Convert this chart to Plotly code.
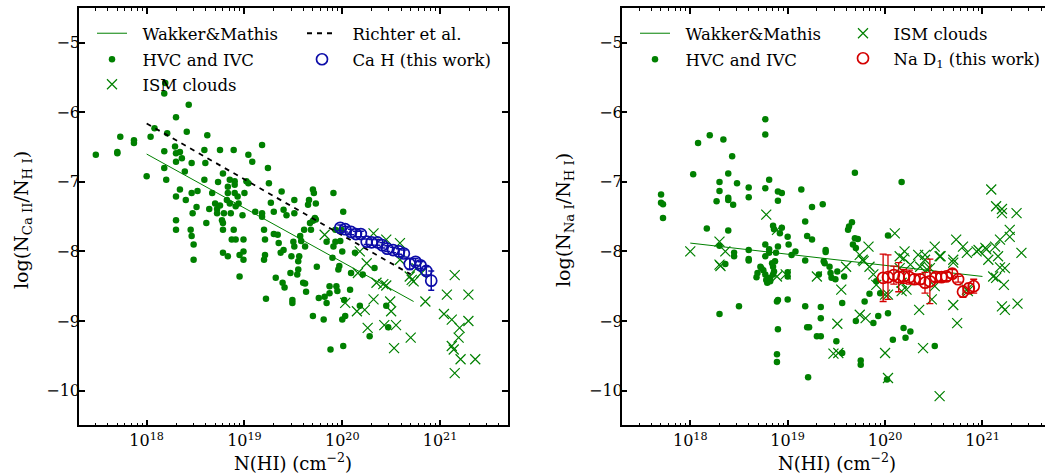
import plotly.graph_objects as go

GREEN = "#008000"
BLUE = "#0c0ca8"
RED = "#d40000"
FONT = "DejaVu Serif"

# ---------------- data (log10 N(HI), log ratio) ----------------
# Left panel: Ca II
ca_hvc_logN = [17.48, 17.73, 17.70, 17.70, 17.87, 17.87, 18.00, 18.04, 18.08, 18.18, 18.19, 18.18, 18.18, 18.20, 18.21,
               18.29, 18.30, 18.30, 18.30, 18.30, 18.30, 18.30, 18.34, 18.34, 18.36, 18.39, 18.40, 18.43, 18.41, 18.45,
               18.46, 18.46, 18.46, 18.47, 18.48, 18.48, 18.52, 18.51, 18.59, 18.59, 18.60, 18.61, 18.62, 18.64, 18.67,
               18.70, 18.72, 18.72, 18.73, 18.75, 18.75, 18.77, 18.78, 18.78, 18.78, 18.78, 18.79, 18.82, 18.83, 18.83,
               18.83, 18.85, 18.85, 18.86, 18.87, 18.89, 18.89, 18.90, 18.90, 18.91, 18.90, 18.91, 18.93, 18.94, 18.95,
               18.95, 18.98, 18.99, 18.99, 18.99, 19.00, 19.02, 19.04, 19.04, 19.08, 19.11, 19.18, 19.18, 19.18, 19.20,
               19.21, 19.20, 19.21, 19.22, 19.24, 19.25, 19.27, 19.30, 19.30, 19.32, 19.34, 19.35, 19.37, 19.38, 19.39,
               19.40, 19.40, 19.41, 19.43, 19.47, 19.48, 19.49, 19.49, 19.50, 19.51, 19.51, 19.51, 19.54, 19.55, 19.55,
               19.56, 19.57, 19.58, 19.60, 19.61, 19.62, 19.62, 19.63, 19.65, 19.66, 19.67, 19.68, 19.70, 19.70, 19.71,
               19.70, 19.72, 19.73, 19.73, 19.74, 19.76, 19.81, 19.82, 19.84, 19.84, 19.87, 19.87, 19.88, 19.90, 19.91,
               19.91, 19.93, 19.94, 19.96, 19.95, 19.97, 19.99, 20.00, 20.00, 20.01, 20.01, 20.02, 20.03, 20.08, 20.09,
               20.13, 20.18, 20.21, 20.28, 20.33, 20.45, 20.47, 19.93, 19.98]
ca_hvc_ratio = [-6.61, -6.35, -6.57, -6.59, -6.40, -6.44, -6.92, -6.35, -6.23, -5.73, -5.58, -6.56, -6.80, -6.97, -6.30,
                -6.49, -6.07, -6.59, -6.71, -7.21, -7.55, -7.69, -7.11, -6.57, -6.66, -6.85, -7.26, -5.89, -6.28, -7.69,
                -7.78, -6.73, -7.16, -7.45, -7.90, -8.12, -7.13, -7.36, -6.54, -6.97, -6.73, -7.59, -6.33, -7.39, -7.16,
                -7.31, -7.39, -7.45, -7.00, -6.54, -7.34, -7.55, -7.59, -7.69, -8.02, -6.88, -7.45, -7.26, -7.07, -7.16,
                -8.07, -6.97, -7.31, -7.45, -7.83, -6.54, -7.69, -6.99, -7.16, -7.35, -7.04, -7.83, -7.21, -7.31, -8.05,
                -8.36, -7.48, -7.83, -8.00, -8.12, -7.16, -6.99, -6.61, -7.02, -6.71, -7.43, -7.45, -6.47, -7.50, -7.69,
                -8.05, -8.12, -7.83, -8.68, -6.80, -7.02, -7.30, -7.43, -7.75, -8.38, -7.76, -7.88, -8.02, -7.14, -8.45,
                -7.40, -7.98, -8.52, -7.48, -8.31, -8.07, -8.74, -8.70, -7.86, -7.93, -7.26, -7.45, -8.33, -8.14, -8.26,
                -8.07, -7.78, -7.85, -8.45, -7.69, -7.93, -8.46, -8.58, -7.33, -7.26, -7.59, -7.69, -8.93, -7.11, -7.16,
                -7.56, -7.52, -7.54, -7.31, -8.22, -8.67, -8.98, -8.65, -8.74, -7.86, -8.50, -8.60, -9.41, -8.09, -7.93,
                -7.16, -7.69, -8.50, -8.26, -8.57, -8.21, -7.69, -8.00, -8.98, -7.43, -9.36, -8.70, -8.93, -8.55, -8.31,
                -8.02, -8.78, -8.33, -9.22, -8.24, -8.78, -9.09, -7.86, -7.85]

ca_ism_logN = [19.82, 20.32, 20.45, 20.59, 20.18, 20.25, 20.59, 20.35, 20.42, 20.45, 20.69, 20.73, 20.16, 20.32,
               20.03, 20.15, 20.23, 20.49, 20.50, 20.26, 20.43, 20.55, 20.53, 20.70, 20.85, 20.81, 20.76, 21.07,
               21.15, 21.29, 21.04, 21.12, 21.29, 21.20, 21.19, 21.12, 21.14, 21.21, 21.36, 21.15, 20.71]
ca_ism_ratio = [-7.76, -7.74, -7.83, -7.88, -8.00, -8.17, -8.12, -8.45, -8.47, -8.49, -8.36, -8.43, -8.31, -8.69,
                -8.74, -8.86, -8.84, -8.72, -8.86, -9.10, -9.06, -9.06, -9.39, -9.24, -8.72, -8.31, -8.24, -8.62,
                -8.34, -8.62, -8.90, -8.98, -9.00, -9.10, -9.24, -9.36, -9.41, -9.55, -9.55, -9.75, -8.41]

ca_wm_logN = [18.0, 20.73]
ca_wm_ratio = [-6.60, -8.72]
ca_richter_logN = [18.0, 20.70]
ca_richter_ratio = [-6.16, -8.33]

work_logN = [19.98, 20.03, 20.09, 20.14, 20.19, 20.25, 20.30, 20.36, 20.41, 20.46, 20.52, 20.58, 20.63, 20.69,
             20.75, 20.80, 20.86, 20.91]
ca_work_ratio = [-7.66, -7.68, -7.72, -7.75, -7.75, -7.86, -7.87, -7.87, -7.91, -7.96, -7.98, -8.00, -8.03, -8.18,
                 -8.15, -8.20, -8.28, -8.42]
ca_work_err = [0.04, 0.04, 0.04, 0.04, 0.04, 0.04, 0.04, 0.04, 0.04, 0.04, 0.04, 0.04, 0.05, 0.08, 0.05, 0.05,
               0.06, 0.14]

# Right panel: Na I
na_hvc_logN = [17.70, 17.70, 17.72, 17.72, 18.03, 18.08, 18.17, 18.20, 18.27, 18.30, 18.30, 18.30, 18.30, 18.34,
               18.36, 18.39, 18.39, 18.39, 18.39, 18.43, 18.44, 18.45, 18.45, 18.48, 18.50, 18.60, 18.60, 18.60,
               18.60, 18.60, 18.68, 18.69, 18.72, 18.73, 18.75, 18.77, 18.77, 18.77, 18.77, 18.77, 18.77, 18.78,
               18.79, 18.81, 18.81, 18.81, 18.82, 18.82, 18.84, 18.85, 18.85, 18.86, 18.85, 18.86, 18.87, 18.88,
               18.89, 18.89, 18.89, 18.90, 18.90, 18.90, 18.90, 18.92, 18.94, 18.94, 19.00, 19.00, 19.00, 19.00,
               19.01, 19.04, 19.08, 19.14, 19.18, 19.18, 19.18, 19.20, 19.21, 19.25, 19.25, 19.32, 19.34, 19.34,
               19.34, 19.30, 19.36, 19.37, 19.38, 19.39, 19.39, 19.43, 19.44, 19.45, 19.49, 19.50, 19.51, 19.56,
               19.56, 19.58, 19.62, 19.63, 19.66, 19.67, 19.69, 19.70, 19.69, 19.70, 19.72, 19.75, 19.75, 19.79,
               19.84, 19.88, 19.91, 19.93, 19.95, 20.02, 20.03, 20.03, 20.08, 20.17, 20.19, 20.21, 20.26, 20.51,
               19.20, 19.22, 18.90]
na_hvc_ratio = [-7.18, -7.30, -7.32, -7.52, -6.89, -6.44, -7.67, -6.33, -7.28, -7.00, -7.13, -7.92, -8.90, -6.39,
                -8.18, -6.88, -7.23, -7.26, -7.70, -6.63, -7.33, -8.02, -8.07, -7.02, -8.79, -7.08, -7.22, -7.98,
                -8.11, -8.13, -8.37, -8.31, -8.22, -8.24, -8.27, -8.33, -6.10, -6.32, -7.09, -7.90, -8.07, -8.41,
                -8.45, -7.97, -8.02, -6.97, -8.38, -8.43, -8.17, -8.22, -7.63, -7.68, -8.33, -8.29, -8.14, -8.02,
                -9.48, -9.59, -8.72, -7.27, -7.14, -9.12, -7.93, -7.74, -7.66, -7.16, -8.30, -8.36, -7.79, -8.69,
                -7.90, -8.05, -8.00, -7.11, -7.57, -8.13, -8.79, -7.78, -9.81, -7.36, -7.83, -8.33, -8.80, -8.96,
                -9.22, -9.22, -7.32, -8.14, -8.17, -7.98, -8.01, -8.22, -8.31, -8.38, -8.40, -9.29, -8.29, -9.46,
                -8.74, -8.36, -7.69, -7.64, -7.58, -7.90, -7.81, -7.95, -6.87, -9.00, -7.82, -9.57, -9.63, -8.72,
                -8.61, -9.03, -8.43, -8.93, -8.60, -9.84, -7.77, -8.89, -9.27, -7.00, -9.10, -9.24, -9.15, -9.36,
                -9.09, -9.09, -8.70]

na_ism_logN = [18.00, 18.30, 18.30, 18.31, 18.36, 18.78, 18.89, 18.89, 18.98, 19.30, 19.55, 19.60, 19.52, 19.47,
               19.51, 19.74, 19.74, 19.78, 19.83, 19.88, 19.91, 20.00, 20.03, 20.03, 20.10, 20.15, 20.17, 20.20,
               20.22, 20.34, 20.35, 20.39, 20.41, 20.46, 20.48, 20.51, 20.51, 20.56, 20.57, 20.70, 20.70, 20.73,
               20.74, 20.80, 20.84, 20.84, 20.94, 21.03, 21.06, 21.09, 21.13, 21.14, 21.14, 21.16, 21.20, 21.20,
               21.18, 21.23, 21.20, 21.23, 21.22, 21.28, 21.28, 21.35, 21.36, 21.40, 21.11, 19.80, 19.77, 19.84,
               20.19, 20.26, 20.15, 20.41, 20.56, 20.70, 20.96, 21.04, 21.18, 20.36, 20.43, 20.17, 20.85, 20.00]
na_ism_ratio = [-8.00, -7.86, -8.19, -8.21, -8.00, -7.47, -7.69, -8.36, -8.33, -8.36, -8.55, -8.22, -9.46, -9.47,
                -9.04, -8.91, -8.05, -8.14, -7.93, -8.33, -8.48, -9.46, -8.62, -9.82, -7.74, -8.07, -8.45, -8.00,
                -8.55, -8.05, -8.84, -9.39, -8.12, -8.24, -8.69, -7.93, -8.50, -10.08, -8.07, -8.12, -8.77, -7.83,
                -9.03, -7.93, -8.02, -8.55, -8.00, -7.95, -8.12, -7.11, -7.93, -7.35, -8.38, -8.07, -7.39, -7.45,
                -7.83, -8.24, -8.79, -8.84, -8.48, -7.69, -7.79, -7.45, -8.75, -8.02, -8.36, -8.96, -8.12, -8.22,
                -8.10, -8.19, -8.24, -8.05, -8.07, -8.16, -7.98, -7.97, -8.23, -8.22, -8.26, -8.57, -8.57, -8.62]

na_wm_logN = [18.0, 21.0]
na_wm_ratio = [-7.88, -8.36]

na_work_ratio = [-8.38, -8.37, -8.34, -8.37, -8.36, -8.37, -8.40, -8.40, -8.45, -8.43, -8.37, -8.37, -8.36, -8.32,
                 -8.40, -8.58, -8.53, -8.50]
na_work_err = [0.34, 0.32, 0.13, 0.21, 0.10, 0.10, 0.07, 0.07, 0.15, 0.32, 0.06, 0.06, 0.06, 0.06, 0.04, 0.08,
               0.07, 0.10]

x_tick_exps = [18, 19, 20, 21]
y_tick_vals = [-10, -9, -8, -7, -6, -5]


def lin(logs):
    return [10.0 ** v for v in logs]


SP = "\u00a0\u00a0"
fig = go.Figure()

# ---- left panel ----
fig.add_trace(go.Scatter(x=lin(ca_hvc_logN), y=ca_hvc_ratio, mode="markers", name=SP + "HVC and IVC",
                         marker=dict(color=GREEN, size=6.5, symbol="circle"), legend="legend2",
                         xaxis="x", yaxis="y"))
fig.add_trace(go.Scatter(x=lin(ca_ism_logN), y=ca_ism_ratio, mode="markers", name=SP + "ISM clouds",
                         marker=dict(color=GREEN, size=10, symbol="x-thin", line=dict(color=GREEN, width=1.2)),
                         legend="legend3", xaxis="x", yaxis="y"))
fig.add_trace(go.Scatter(x=lin(ca_wm_logN), y=ca_wm_ratio, mode="lines", name=SP + "Wakker&amp;Mathis",
                         line=dict(color=GREEN, width=1), legend="legend10", xaxis="x", yaxis="y"))
fig.add_trace(go.Scatter(x=lin(ca_richter_logN), y=ca_richter_ratio, mode="lines", name=SP + "Richter et al.",
                         line=dict(color="black", width=1.8, dash="5px,5px"), legend="legend4",
                         xaxis="x", yaxis="y"))
fig.add_trace(go.Scatter(x=lin(work_logN), y=ca_work_ratio, mode="markers", name=SP + "Ca H (this work)",
                         marker=dict(color=BLUE, size=11, symbol="circle-open", line=dict(color=BLUE, width=1.7)),
                         error_y=dict(type="data", array=ca_work_err, color=BLUE, thickness=1.5, width=3),
                         legend="legend5", xaxis="x", yaxis="y"))

# ---- right panel ----
fig.add_trace(go.Scatter(x=lin(na_hvc_logN), y=na_hvc_ratio, mode="markers", name=SP + "HVC and IVC",
                         marker=dict(color=GREEN, size=6.5, symbol="circle"), legend="legend7",
                         xaxis="x2", yaxis="y2"))
fig.add_trace(go.Scatter(x=lin(na_ism_logN), y=na_ism_ratio, mode="markers", name=SP + "ISM clouds",
                         marker=dict(color=GREEN, size=10, symbol="x-thin", line=dict(color=GREEN, width=1.2)),
                         legend="legend8", xaxis="x2", yaxis="y2"))
fig.add_trace(go.Scatter(x=lin(na_wm_logN), y=na_wm_ratio, mode="lines", name=SP + "Wakker&amp;Mathis",
                         line=dict(color=GREEN, width=1), legend="legend6", xaxis="x2", yaxis="y2"))
fig.add_trace(go.Scatter(x=lin(work_logN), y=na_work_ratio, mode="markers",
                         name=SP + "Na D<sub>1</sub> (this work)",
                         marker=dict(color=RED, size=11, symbol="circle-open", line=dict(color=RED, width=1.7)),
                         error_y=dict(type="data", array=na_work_err, color=RED, thickness=1.3, width=3.5),
                         legend="legend9", xaxis="x2", yaxis="y2"))

W, H = 1045, 476
top_px, bot_px = 8, 425.3
ydom = [(H - bot_px) / H, (H - top_px) / H]

minor_vals = [float(m) * 10.0 ** e for e in range(17, 22) for m in range(2, 10)]

xcommon = dict(type="log", showline=True, linecolor="black", linewidth=1.5, ticks="inside", ticklen=6,
               tickwidth=1.5, tickcolor="black", mirror="ticks", automargin=False,
               tickmode="array", tickvals=[10.0 ** e for e in x_tick_exps],
               ticktext=["10<sup>%d</sup>" % e for e in x_tick_exps],
               showgrid=False, zeroline=False,
               tickfont=dict(family=FONT, size=16, color="black"),
               minor=dict(ticks="inside", ticklen=3, tickwidth=1, tickcolor="black", tickvals=minor_vals,
                          showgrid=False))
ycommon = dict(range=[-10.5, -4.5], showline=True, linecolor="black", linewidth=1.5, ticks="inside", ticklen=6,
               tickwidth=1.5, tickcolor="black", tickmode="array", tickvals=y_tick_vals,
               ticktext=["\u2212%d" % abs(v) for v in y_tick_vals], automargin=False,
               ticklabelstandoff=-6,
               showgrid=False, zeroline=False,
               tickfont=dict(family=FONT, size=16, color="black"))

fig.update_layout(
    width=W, height=H, margin=dict(l=0, r=0, t=0, b=0),
    paper_bgcolor="white", plot_bgcolor="white", showlegend=True,
    font=dict(family=FONT, size=16, color="black"),
    xaxis=dict(domain=[79 / W, 508 / W], range=[17.308, 21.695], anchor="y", **xcommon),
    yaxis=dict(domain=ydom, anchor="x", mirror="ticks", **ycommon),
    xaxis2=dict(domain=[621.7 / W, 1.0], range=[17.296, 21.642], anchor="y2", **xcommon),
    yaxis2=dict(domain=ydom, anchor="x2", mirror=False, **ycommon),
)

leg = dict(bgcolor="rgba(0,0,0,0)", borderwidth=0, xanchor="left", yanchor="top",
           font=dict(family=FONT, size=16.5, color="black"), itemclick=False)
legend_pos = {  # (left px, row centre px)
    "legend10": (92, 31), "legend2": (92, 57), "legend3": (92, 82),
    "legend4": (302, 31), "legend5": (302, 57),
    "legend6": (635, 31), "legend7": (635, 57),
    "legend8": (843, 31), "legend9": (843, 56),
}
fig.update_layout(**{k: dict(x=v[0] / W, y=1 - (v[1] - 15) / H, **leg) for k, v in legend_pos.items()})

ann_font = dict(family=FONT, size=18, color="black")
fig.add_annotation(x=293 / W, y=1 - 462 / H, xref="paper", yref="paper", text="N(HI) (cm<sup>−2</sup>)",
                   showarrow=False, font=ann_font, xanchor="center", yanchor="middle")
fig.add_annotation(x=837 / W, y=1 - 462 / H, xref="paper", yref="paper", text="N(HI) (cm<sup>−2</sup>)",
                   showarrow=False, font=ann_font, xanchor="center", yanchor="middle")
fig.add_annotation(x=22 / W, y=1 - 220 / H, xref="paper", yref="paper",
                   text="log(N<sub>Ca II</sub>/N<sub>H I</sub>)", textangle=-90,
                   showarrow=False, font=dict(family=FONT, size=19, color="black"),
                   xanchor="center", yanchor="middle")
fig.add_annotation(x=564 / W, y=1 - 220 / H, xref="paper", yref="paper",
                   text="log(N<sub>Na I</sub>/N<sub>H I</sub>)", textangle=-90,
                   showarrow=False, font=dict(family=FONT, size=19, color="black"),
                   xanchor="center", yanchor="middle")

fig.write_html("out.html")
